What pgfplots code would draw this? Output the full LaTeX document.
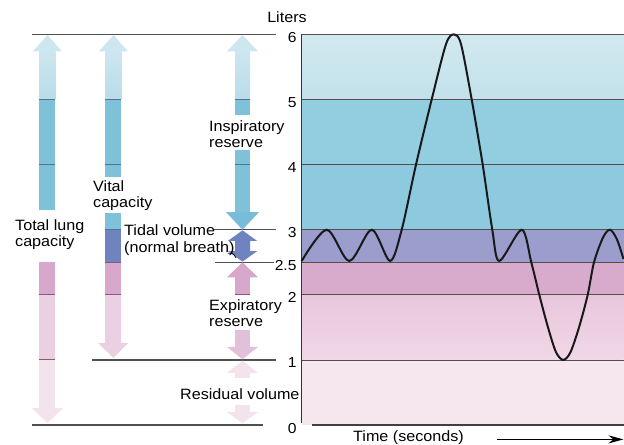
\documentclass[border=0pt]{standalone}
\usepackage{fontspec}
\setmainfont{Liberation Sans}[FakeStretch=1.08]
\usepackage{pgfplots}
\pgfplotsset{compat=1.18}
\usetikzlibrary{arrows.meta}
% plot bands
\definecolor{bA}{HTML}{C3E1EB}
\definecolor{bAt}{HTML}{D2E9F0}
\definecolor{bB}{HTML}{93CDE0}
\definecolor{bC}{HTML}{8DCADF}
\definecolor{bD}{HTML}{9B9DCC}
\definecolor{bE}{HTML}{D8ABCD}
\definecolor{bF}{HTML}{E8C6DC}
\definecolor{bFb}{HTML}{F0D8E6}
\definecolor{bG}{HTML}{F6E6EE}
% arrow colours
\definecolor{aHead}{HTML}{CDE6EF}
\definecolor{aLight}{HTML}{B9DCE9}
\definecolor{aBlue}{HTML}{80C1DA}
\definecolor{aBlueD}{HTML}{79BCD8}
\definecolor{aPurp}{HTML}{6E83C0}
\definecolor{aPink}{HTML}{D7A8CC}
\definecolor{aPinkL}{HTML}{EBCFE2}
\definecolor{aPinkM}{HTML}{E2C0D9}
\definecolor{aPinkVL}{HTML}{F3E3EC}
\definecolor{divB}{HTML}{4D7891}
\definecolor{divP}{HTML}{8A5A7C}
\definecolor{lineG}{HTML}{505050}
\newcommand{\lbl}{\fontsize{15}{16.2}\selectfont}
\begin{document}
\begin{tikzpicture}
\begin{axis}[
  scale only axis, width=321.8bp, height=390.7bp,
  xmin=301.7, xmax=623.5, ymin=0, ymax=6,
  clip=false, axis line style={draw=none},
  xtick=\empty, ytick={0,1,2,2.5,3,4,5,6},
  yticklabels={0,1,2,2.5,3,4,5,6},
  major tick length=0pt,
  /pgf/number format/assume math mode=true,
  yticklabel style={font=\fontsize{14.5}{16}\selectfont, inner sep=0pt, xshift=-5bp, yshift=-3bp},
]
% ---------- bands of the plot ----------
\addplot[draw=none, top color=bAt, bottom color=bA] coordinates {(301.7,5)(623.5,5)(623.5,6)(301.7,6)} -- cycle;
\addplot[draw=none, fill=bB] coordinates {(301.7,4)(623.5,4)(623.5,5)(301.7,5)} -- cycle;
\addplot[draw=none, fill=bC] coordinates {(301.7,3)(623.5,3)(623.5,4)(301.7,4)} -- cycle;
\addplot[draw=none, fill=bD] coordinates {(301.7,2.5)(623.5,2.5)(623.5,3)(301.7,3)} -- cycle;
\addplot[draw=none, fill=bE] coordinates {(301.7,2)(623.5,2)(623.5,2.5)(301.7,2.5)} -- cycle;
\addplot[draw=none, top color=bF, bottom color=bFb] coordinates {(301.7,1)(623.5,1)(623.5,2)(301.7,2)} -- cycle;
\addplot[draw=none, fill=bG] coordinates {(301.7,0)(623.5,0)(623.5,1)(301.7,1)} -- cycle;
% band separators
\addplot[lineG, line width=0.9bp] coordinates {(301.7,6)(623.5,6)};
\addplot[lineG, line width=0.9bp] coordinates {(301.7,5)(623.5,5)};
\addplot[lineG, line width=0.9bp] coordinates {(301.7,4)(623.5,4)};
\addplot[lineG, line width=0.9bp] coordinates {(301.7,3)(623.5,3)};
\addplot[lineG, line width=0.9bp] coordinates {(301.7,2.5)(623.5,2.5)};
\addplot[lineG, line width=0.9bp] coordinates {(301.7,2)(623.5,2)};
\addplot[lineG, line width=0.9bp] coordinates {(301.7,1)(623.5,1)};
% frame
\addplot[black!80, line width=1.4bp] coordinates {(301.7,0.03)(301.7,6)};
\addplot[black!75, line width=1.4bp] coordinates {(311.7,0)(623.5,0)};
% ---------- spirogram ----------
\addplot[black!90, line width=2bp, smooth, tension=0.5] coordinates {
(301.7,2.52)(326.7,3.0)(349.3,2.52)(371.7,3.0)(390,2.52)
(401.7,3.0)(416,4.0)(431.7,5.0)(446,5.85)(454,6.0)(461,5.85)
(471.7,5.0)(482.7,4.0)(492.3,3.0)(499.3,2.52)
(521.7,3.0)(531.3,2.5)(539.3,2.0)(548,1.5)(556,1.12)(563.3,1.0)
(570.5,1.12)(579,1.5)(587.7,2.0)(594,2.5)(603,2.88)(610,3.0)(617,2.85)(623.5,2.55)};
% ---------- left reference lines ----------
\addplot[lineG, line width=1.4bp] coordinates {(32,6)(276,6)};
\addplot[lineG, line width=1.4bp] coordinates {(213,3)(276,3)};
\addplot[lineG, line width=1.4bp] coordinates {(215,2.5)(274,2.5)};
\addplot[lineG, line width=1.4bp] coordinates {(92,1)(276,1)};
\addplot[lineG, line width=1.4bp] coordinates {(32,0)(263,0)};
% ---------- column 1: total lung capacity ----------
\addplot[draw=none, fill=aHead] coordinates {(33,5.74)(62,5.74)(47.5,5.99)} -- cycle;
\addplot[draw=none, top color=aHead, bottom color=aLight] coordinates {(39.5,5.74)(55.5,5.74)(55.5,5)(39.5,5)} -- cycle;
\addplot[draw=none, fill=aBlue] coordinates {(39.5,5)(55.5,5)(55.5,3.31)(39.5,3.31)} -- cycle;
\addplot[draw=none, fill=aPink] coordinates {(39.5,2.5)(55.5,2.5)(55.5,2)(39.5,2)} -- cycle;
\addplot[draw=none, fill=aPinkL] coordinates {(39.5,2)(55.5,2)(55.5,1)(39.5,1)} -- cycle;
\addplot[draw=none, fill=aPinkVL] coordinates {(39.5,1)(55.5,1)(55.5,0.26)(39.5,0.26)} -- cycle;
\addplot[draw=none, fill=aPinkVL] coordinates {(32,0.26)(63,0.26)(47.5,0.03)} -- cycle;
\addplot[divB, line width=1bp] coordinates {(39.5,5)(55.5,5)};
\addplot[divB, line width=1bp] coordinates {(39.5,4)(55.5,4)};
\addplot[divP, line width=1bp] coordinates {(39.5,2)(55.5,2)};
\addplot[divP, line width=1bp] coordinates {(39.5,1)(55.5,1)};
% ---------- column 2: vital capacity ----------
\addplot[draw=none, fill=aHead] coordinates {(99,5.74)(128,5.74)(113.5,5.99)} -- cycle;
\addplot[draw=none, top color=aHead, bottom color=aLight] coordinates {(105.5,5.74)(121.5,5.74)(121.5,5)(105.5,5)} -- cycle;
\addplot[draw=none, fill=aBlue] coordinates {(105.5,5)(121.5,5)(121.5,3.81)(105.5,3.81)} -- cycle;
\addplot[draw=none, fill=aBlue] coordinates {(105.5,3.26)(121.5,3.26)(121.5,3)(105.5,3)} -- cycle;
\addplot[draw=none, fill=aPurp] coordinates {(105.5,3)(121.5,3)(121.5,2.5)(105.5,2.5)} -- cycle;
\addplot[draw=none, fill=aPink] coordinates {(105.5,2.5)(121.5,2.5)(121.5,2)(105.5,2)} -- cycle;
\addplot[draw=none, fill=aPinkL] coordinates {(105.5,2)(121.5,2)(121.5,1.26)(105.5,1.26)} -- cycle;
\addplot[draw=none, fill=aPinkL] coordinates {(98,1.26)(128,1.26)(113.5,1.03)} -- cycle;
\addplot[divB, line width=1bp] coordinates {(105.5,5)(121.5,5)};
\addplot[divB, line width=1bp] coordinates {(105.5,4)(121.5,4)};
\addplot[divB, line width=1bp] coordinates {(105.5,3)(121.5,3)};
\addplot[divP, line width=1bp] coordinates {(105.5,2.5)(121.5,2.5)};
\addplot[divP, line width=1bp] coordinates {(105.5,2)(121.5,2)};
% ---------- column 3: component volumes ----------
\addplot[draw=none, fill=aHead] coordinates {(227,5.74)(258,5.74)(242.5,5.99)} -- cycle;
\addplot[draw=none, top color=aHead, bottom color=aLight] coordinates {(235,5.74)(250,5.74)(250,5)(235,5)} -- cycle;
\addplot[draw=none, fill=aBlue] coordinates {(235,5)(250,5)(250,4.76)(235,4.76)} -- cycle;
\addplot[draw=none, fill=aBlue] coordinates {(235,4.22)(250,4.22)(250,3.27)(235,3.27)} -- cycle;
\addplot[draw=none, fill=aBlueD] coordinates {(226,3.27)(259,3.27)(242.5,3.0)} -- cycle;
\addplot[divB, line width=1bp] coordinates {(235,5)(250,5)};
\addplot[divB, line width=1bp] coordinates {(235,4)(250,4)};
% tidal double arrow
\addplot[draw=none, fill=aPurp] coordinates {
(242.5,2.99)(257,2.83)(250,2.83)(250,2.67)(257,2.67)(242.5,2.51)(228,2.67)(235,2.67)(235,2.83)(228,2.83)} -- cycle;
% expiratory reserve
\addplot[draw=none, fill=aPink] coordinates {(242.5,2.5)(258,2.27)(227,2.27)} -- cycle;
\addplot[draw=none, fill=aPink] coordinates {(235,2.27)(250,2.27)(250,2)(235,2)} -- cycle;
\addplot[divP, line width=1bp] coordinates {(235,2)(250,2)};
\addplot[draw=none, fill=aPinkM] coordinates {(235,1.46)(250,1.46)(250,1.2)(235,1.2)} -- cycle;
\addplot[draw=none, fill=aPinkM] coordinates {(227,1.2)(258,1.2)(242.5,1.01)} -- cycle;
% residual volume
\addplot[draw=none, fill=aPinkVL] coordinates {(242.5,0.99)(258,0.8)(227,0.8)} -- cycle;
\addplot[draw=none, fill=aPinkVL] coordinates {(235,0.8)(250,0.8)(250,0.72)(235,0.72)} -- cycle;
\addplot[draw=none, fill=aPinkVL] coordinates {(235,0.31)(250,0.31)(250,0.2)(235,0.2)} -- cycle;
\addplot[draw=none, fill=aPinkVL] coordinates {(227,0.2)(258,0.2)(242.5,0.03)} -- cycle;
% ---------- texts ----------
\node[anchor=center, font=\lbl, inner sep=0pt] at (axis cs:287,6.27) {Liters};
\node[anchor=west, align=left, font=\lbl, inner sep=0pt] at (axis cs:209,4.47) {Inspiratory\\reserve};
\node[anchor=west, align=left, font=\lbl, inner sep=0pt] at (axis cs:93,3.52) {Vital\\capacity};
\node[anchor=west, align=left, font=\lbl, inner sep=0pt] at (axis cs:15,2.93) {Total lung\\capacity};
\node[anchor=west, align=left, font=\lbl, inner sep=0pt] at (axis cs:124,2.84) {Tidal volume\\(normal breath)};
\node[anchor=west, align=left, font=\lbl, inner sep=0pt] at (axis cs:209,1.72) {Expiratory\\reserve};
\node[anchor=west, font=\lbl, inner sep=0pt] at (axis cs:180,0.48) {Residual volume};
\node[anchor=center, font=\lbl, inner sep=0pt] at (axis cs:408.5,-0.19) {Time (seconds)};
\draw[line width=0.7bp] (axis cs:228,2.64) .. controls (axis cs:233,2.64) .. (axis cs:236,2.57);
\draw[line width=1.5bp, -{Stealth[length=15bp,width=8bp]}] (axis cs:497,-0.22) -- (axis cs:623.5,-0.22);
\coordinate (bbA) at (axis cs:0,6.528);
\coordinate (bbB) at (axis cs:624,-0.292);
\end{axis}
\pgfresetboundingbox
\path[use as bounding box] (bbA) rectangle (bbB);
\end{tikzpicture}
\end{document}
